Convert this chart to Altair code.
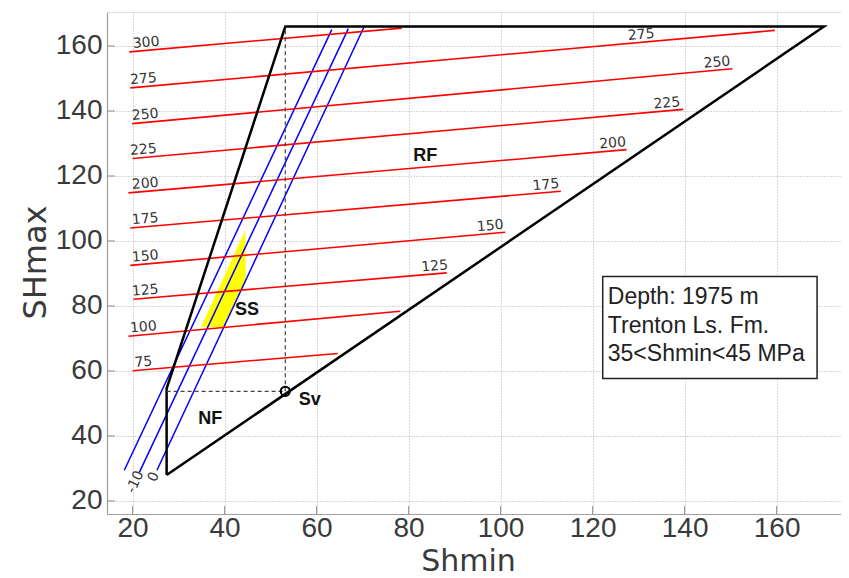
import altair as alt
import pandas as pd

# ---------------- data ----------------
x_ticks = [20, 40, 60, 80, 100, 120, 140, 160]
y_ticks = [20, 40, 60, 80, 100, 120, 140, 160]

# Co contours (red)
co_levels = [75, 100, 125, 150, 175, 200, 225, 250, 275, 300]
co_x0 = [20.0, 19.1, 20.2, 19.5, 19.5, 19.1, 20.0, 19.9, 19.5, 19.3]
co_y0 = [60.1, 70.7, 82.1, 92.5, 104.0, 114.8, 125.4, 136.1, 147.1, 158.2]
co_x1 = [64.6, 78.2, 88.3, 101.0, 113.1, 127.4, 139.7, 150.4, 159.6, 78.5]
co_y1 = [65.4, 78.4, 90.2, 102.7, 115.3, 128.1, 140.5, 153.0, 164.8, 165.5]
co_left_lab_x = [22.5, 22.5, 22.9, 22.9, 22.9, 22.9, 22.5, 22.9, 22.5, 23.1]
co_right_lab_x = [None, None, 85.8, 97.9, 110.0, 124.5, 136.3, 147.2, 130.7, None]

# To contours (blue)
to_labels = ["", "-10", "0"]
to_x0 = [18.2, 21.5, 25.3]
to_y0 = [29.45, 28.9, 29.45]
to_x1 = [63.3, 66.9, 70.3]
to_y1 = [165.05, 165.35, 165.85]
to_lab_x = [None, 20.6, 24.6]
to_lab_y = [None, 25.85, 27.4]

# stress polygon
poly_x = [27.4, 27.4, 53.2, 170.3, 27.4]
poly_y = [28.0, 54.6, 166.0, 166.0, 28.0]

# vertical stress point
sv_x = [53.2]
sv_y = [53.75]
nf_min_x = 27.4
top_y = 166.0

# SS allowed region (yellow)
ss_y = [73.5, 87.4, 103.3]
ss_x_left = [34.86, 39.36, 44.5]
ss_x_right = [39.8, 44.6, 44.5]

# region labels
reg_names = ["RF", "SS", "NF", "Sv"]
reg_x = [83.6, 44.85, 36.9, 58.5]
reg_y = [126.15, 78.8, 45.1, 51.1]

# info box
box_x = [122.2]
box_x2 = [168.8]
box_y = [57.7]
box_y2 = [89.1]
info_lines = ["Depth: 1975 m", "Trenton Ls. Fm.", "35<Shmin<45 MPa"]
info_x = [123.3, 123.3, 123.3]
info_y = [80.5, 71.7, 63.0]

# ---------------- chart ----------------
W, H = 734, 502
xs = alt.Scale(domain=[14.44, 174.0], nice=False, zero=False)
ys = alt.Scale(domain=[16.0, 170.46], nice=False, zero=False)

common_axis = dict(
    grid=True, gridDash=[1, 2], gridColor="#b0b0b0", gridWidth=1,
    ticks=False, domainColor="#a0a0a0", domainWidth=1.2,
    labelFont="Liberation Sans", labelFontSize=28, labelColor="#3a3a3a",
    labelFlush=False,
    titleFont="DejaVu Sans", titleFontWeight="normal",
    titleColor="#3a3a3a", titleBaseline="alphabetic", titleAlign="center",
)
x_axis = alt.Axis(values=x_ticks, title="Shmin", labelPadding=0, titleFontSize=30,
                  titleX=361, titleY=56.5, **common_axis)
y_axis = alt.Axis(values=y_ticks, title="SHmax", labelPadding=5, titleFontSize=32,
                  titleX=-62, titleY=250, titleAngle=270, **common_axis)


def X(f):
    return alt.X(f, type="quantitative", scale=xs, axis=x_axis)


def Y(f):
    return alt.Y(f, type="quantitative", scale=ys, axis=y_axis)


# polygon
poly_df = pd.DataFrame({"x": poly_x, "y": poly_y, "i": range(len(poly_x))})
poly = alt.Chart(poly_df).mark_line(color="black", strokeWidth=2.5, strokeJoin="miter").encode(
    x=X("x"), y=Y("y"), order="i:O")

# inward ticks
xt_df = pd.DataFrame({"v": x_ticks})
yt_df = pd.DataFrame({"v": y_ticks})
xtick = alt.Chart(xt_df).mark_rule(color="#909090", strokeWidth=1).encode(
    x=X("v"), y=alt.value(H), y2=alt.value(H - 8))
ytick = alt.Chart(yt_df).mark_rule(color="#909090", strokeWidth=1).encode(
    y=Y("v"), x=alt.value(0), x2=alt.value(8))

# yellow SS region
ss_df = pd.DataFrame({"y": ss_y, "xl": ss_x_left, "xr": ss_x_right})
ss = alt.Chart(ss_df).mark_area(color="#ffff00", orient="horizontal", opacity=1).encode(
    y=Y("y"), x=X("xl"), x2="xr")

# blue lines
to_df = pd.DataFrame({"x0": to_x0, "y0": to_y0, "x1": to_x1, "y1": to_y1})
to_lines = alt.Chart(to_df).mark_rule(color="#0000ff", strokeWidth=1.5).encode(
    x=X("x0"), y=Y("y0"), x2="x1", y2="y1")
to_lab_df = pd.DataFrame({"t": to_labels, "x": to_lab_x, "y": to_lab_y}).dropna()
to_lab_df = to_lab_df[to_lab_df["t"] != ""]
to_text = alt.Chart(to_lab_df).mark_text(
    font="DejaVu Sans", fontSize=14, color="#333333", angle=295,
    align="center", baseline="middle").encode(
    x=X("x"), y=Y("y"), text="t")

# red lines
co_df = pd.DataFrame({"lev": co_levels, "x0": co_x0, "y0": co_y0, "x1": co_x1, "y1": co_y1})
co_lines = alt.Chart(co_df).mark_rule(color="#ff0000", strokeWidth=1.6).encode(
    x=X("x0"), y=Y("y0"), x2="x1", y2="y1")


def on_line(lx, x0, y0, x1, y1):
    return y0 + (lx - x0) * (y1 - y0) / (x1 - x0)


left_rows = []
right_rows = []
for lev, a, b, c, d, ll, rl in zip(co_levels, co_x0, co_y0, co_x1, co_y1,
                                   co_left_lab_x, co_right_lab_x):
    left_rows.append({"t": str(lev), "x": ll, "y": on_line(ll, a, b, c, d)})
    if rl is not None:
        right_rows.append({"t": str(lev), "x": rl, "y": on_line(rl, a, b, c, d)})
co_lab_df = pd.DataFrame(left_rows + right_rows)
co_text = alt.Chart(co_lab_df).mark_text(
    font="DejaVu Sans", fontSize=14, color="#333333", angle=355, dy=-7.5,
    align="center", baseline="middle").encode(
    x=X("x"), y=Y("y"), text="t")

# dashed guides to Sv
dash_df = pd.DataFrame({"x0": [sv_x[0], nf_min_x], "y0": [sv_y[0], sv_y[0]],
                        "x1": [sv_x[0], sv_x[0]], "y1": [top_y, sv_y[0]]})
dashes = alt.Chart(dash_df).mark_rule(color="#444444", strokeWidth=1.2, strokeDash=[4, 3]).encode(
    x=X("x0"), y=Y("y0"), x2="x1", y2="y1")

sv_df = pd.DataFrame({"x": sv_x, "y": sv_y})
sv_pt = alt.Chart(sv_df).mark_point(shape="circle", size=85, filled=False, color="black",
                                    strokeWidth=2, opacity=1).encode(
    x=X("x"), y=Y("y"))

reg_df = pd.DataFrame({"t": reg_names, "x": reg_x, "y": reg_y})
reg_text = alt.Chart(reg_df).mark_text(
    font="Liberation Sans", fontSize=18, fontWeight="bold", color="#111111",
    align="center", baseline="middle").encode(
    x=X("x"), y=Y("y"), text="t")

box_df = pd.DataFrame({"x": box_x, "x2": box_x2, "y": box_y, "y2": box_y2})
box = alt.Chart(box_df).mark_rect(fill="white", stroke="#222222", strokeWidth=1.5).encode(
    x=X("x"), x2="x2", y=Y("y"), y2="y2")
info_df = pd.DataFrame({"t": info_lines, "x": info_x, "y": info_y})
info = alt.Chart(info_df).mark_text(
    font="Liberation Sans", fontSize=23, color="#222222", align="left",
    baseline="alphabetic").encode(
    x=X("x"), y=Y("y"), text="t")

chart = alt.layer(
    ss, to_lines, co_lines, poly, dashes, sv_pt, to_text, co_text,
    reg_text, box, info, xtick, ytick
).properties(
    width=W, height=H,
    autosize=alt.AutoSizeParams(type="none"),
    padding={"left": 99, "top": 4, "right": 0, "bottom": 66},
).configure_view(stroke=None).configure(background="white")

chart.save("out.html", embed_options={"renderer": "svg", "actions": False})
